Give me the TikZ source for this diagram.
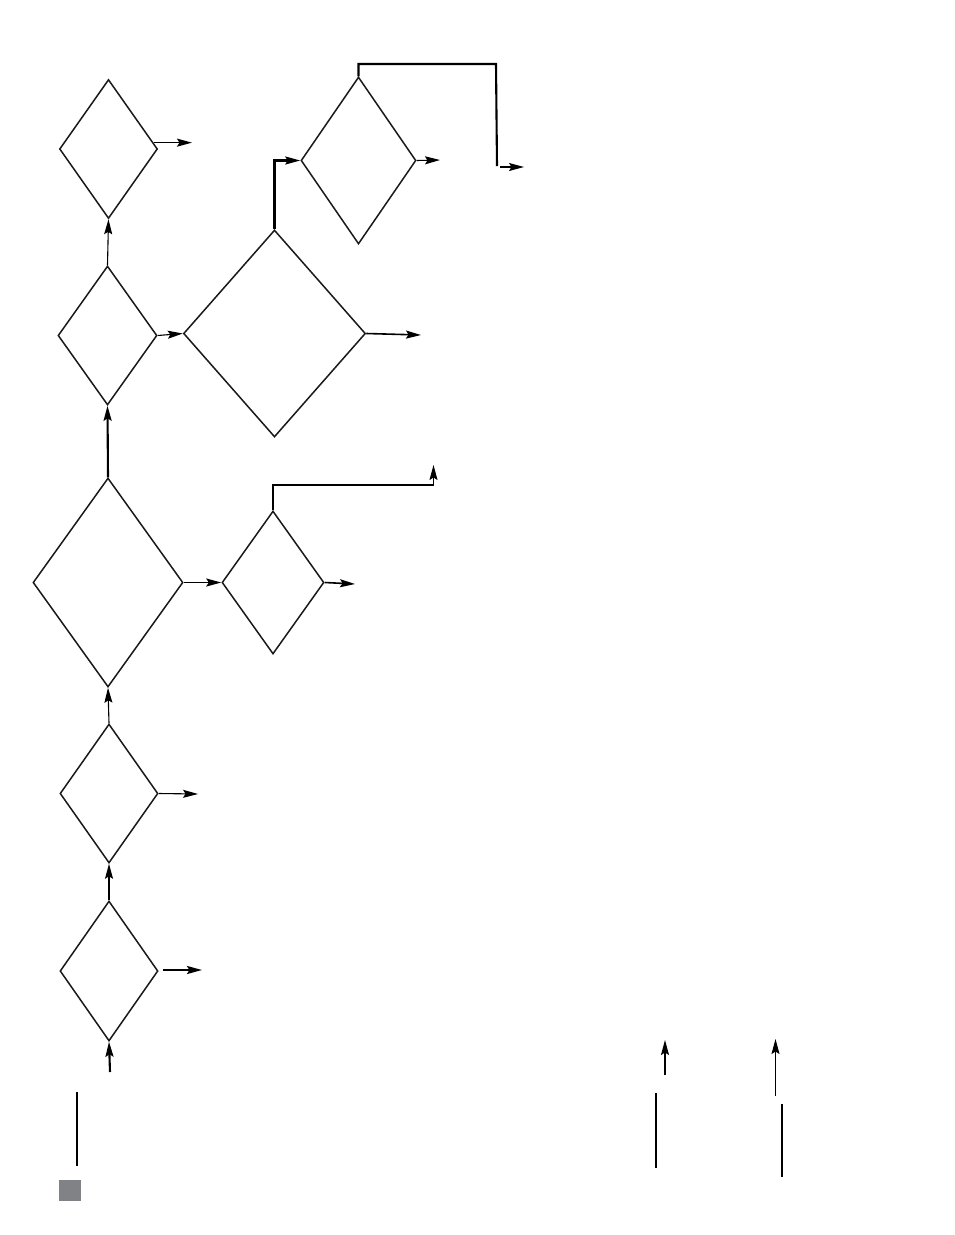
\documentclass[tikz,border=0pt]{standalone}
\usetikzlibrary{arrows.meta,shapes.geometric}
\definecolor{sqgray}{HTML}{808285}
\begin{document}
\begin{tikzpicture}[x=1pt,y=-1pt,
  dia/.style={draw=black!90, diamond, inner sep=0pt, line width=1.5pt, line join=miter},
  arr/.style={-{Stealth[length=15pt,width=8pt,inset=2.5pt]}},
  thinl/.style={line width=1.1pt},
  medl/.style={line width=1.6pt},
  thickl/.style={line width=2.1pt}]
\useasboundingbox (0,0) rectangle (954,1235);

% diamonds
\node[dia, minimum width=98pt, minimum height=139pt] (d1) at (108.5,149) {};
\node[dia, minimum width=99pt, minimum height=139pt] (d2) at (107.5,335.5) {};
\node[dia, minimum width=182pt, minimum height=207pt] (d3) at (274.5,333.5) {};
\node[dia, minimum width=115pt, minimum height=167pt] (d4) at (358.5,160.5) {};
\node[dia, minimum width=150pt, minimum height=209pt] (d5) at (108,582.5) {};
\node[dia, minimum width=102pt, minimum height=143pt] (d6) at (273,582.5) {};
\node[dia, minimum width=98pt, minimum height=139pt] (d7) at (109,793.5) {};
\node[dia, minimum width=98pt, minimum height=140pt] (d8) at (109,971) {};

% free ends
\coordinate (o1) at (192,143);
\coordinate (o3) at (421,335);
\coordinate (o4) at (440,160);
\coordinate (k4b) at (496,64);
\coordinate (k4c) at (497,166);
\coordinate (s4) at (500,167);
\coordinate (o4b) at (524,167);
\coordinate (o6) at (355,584);
\coordinate (k6b) at (433.5,485);
\coordinate (o6b) at (433.5,465);
\coordinate (o7) at (198,794);
\coordinate (s8) at (163,970);
\coordinate (o8) at (202,970);
\coordinate (in8) at (110,1072);
\coordinate (la) at (77,1092);
\coordinate (lb) at (77,1166);
\coordinate (ra1) at (665,1075);
\coordinate (ra2) at (665,1040);
\coordinate (rl1) at (656,1093);
\coordinate (rl2) at (656,1168);
\coordinate (rb1) at (775.5,1096);
\coordinate (rb2) at (775.5,1039);
\coordinate (rm1) at (782,1104);
\coordinate (rm2) at (782,1177);

% connectors
\draw[arr,medl] (d1.8) -- (d1.8 -| o1);
\draw[arr,thinl] (d2.north) -- (d1.south);
\draw[arr,thinl] (d2.east) -- (d3.west);
\draw[arr,medl] (d3.east) -- (o3);
\draw[arr,thickl] (d3.north) |- (d4.west);
\draw[arr,thinl] (d4.east) -- (o4);
\draw[thickl] (d4.north) |- (k4b) -- (k4c);
\draw[arr,thinl] (s4) -- (o4b);
\draw[arr,thickl] (d5.north) -- (d2.south);
\draw[arr,medl] (d5.east) -- (d6.west);
\draw[arr,medl] (d6.east) -- (o6);
\draw[medl] (d6.north) |- (k6b);
\draw[arr,thinl] (k6b) -- (o6b);
\draw[arr,thinl] (d7.north) -- (d5.south);
\draw[arr,thinl] (d7.east) -- (o7);
\draw[arr,thinl] (d8.north) -- (d7.south);
\draw[arr,thickl] (s8) -- (o8);
\draw[arr,thickl] (in8) -- (d8.south);
\draw[thinl] (la) -- (lb);
\draw[arr,thinl] (ra1) -- (ra2);
\draw[line width=2.5pt] (rl1) -- (rl2);
\draw[arr,thinl] (rb1) -- (rb2);
\draw[thinl] (rm1) -- (rm2);

% gray square
\fill[sqgray] (59,1180) rectangle (81,1201);
\end{tikzpicture}
\end{document}
